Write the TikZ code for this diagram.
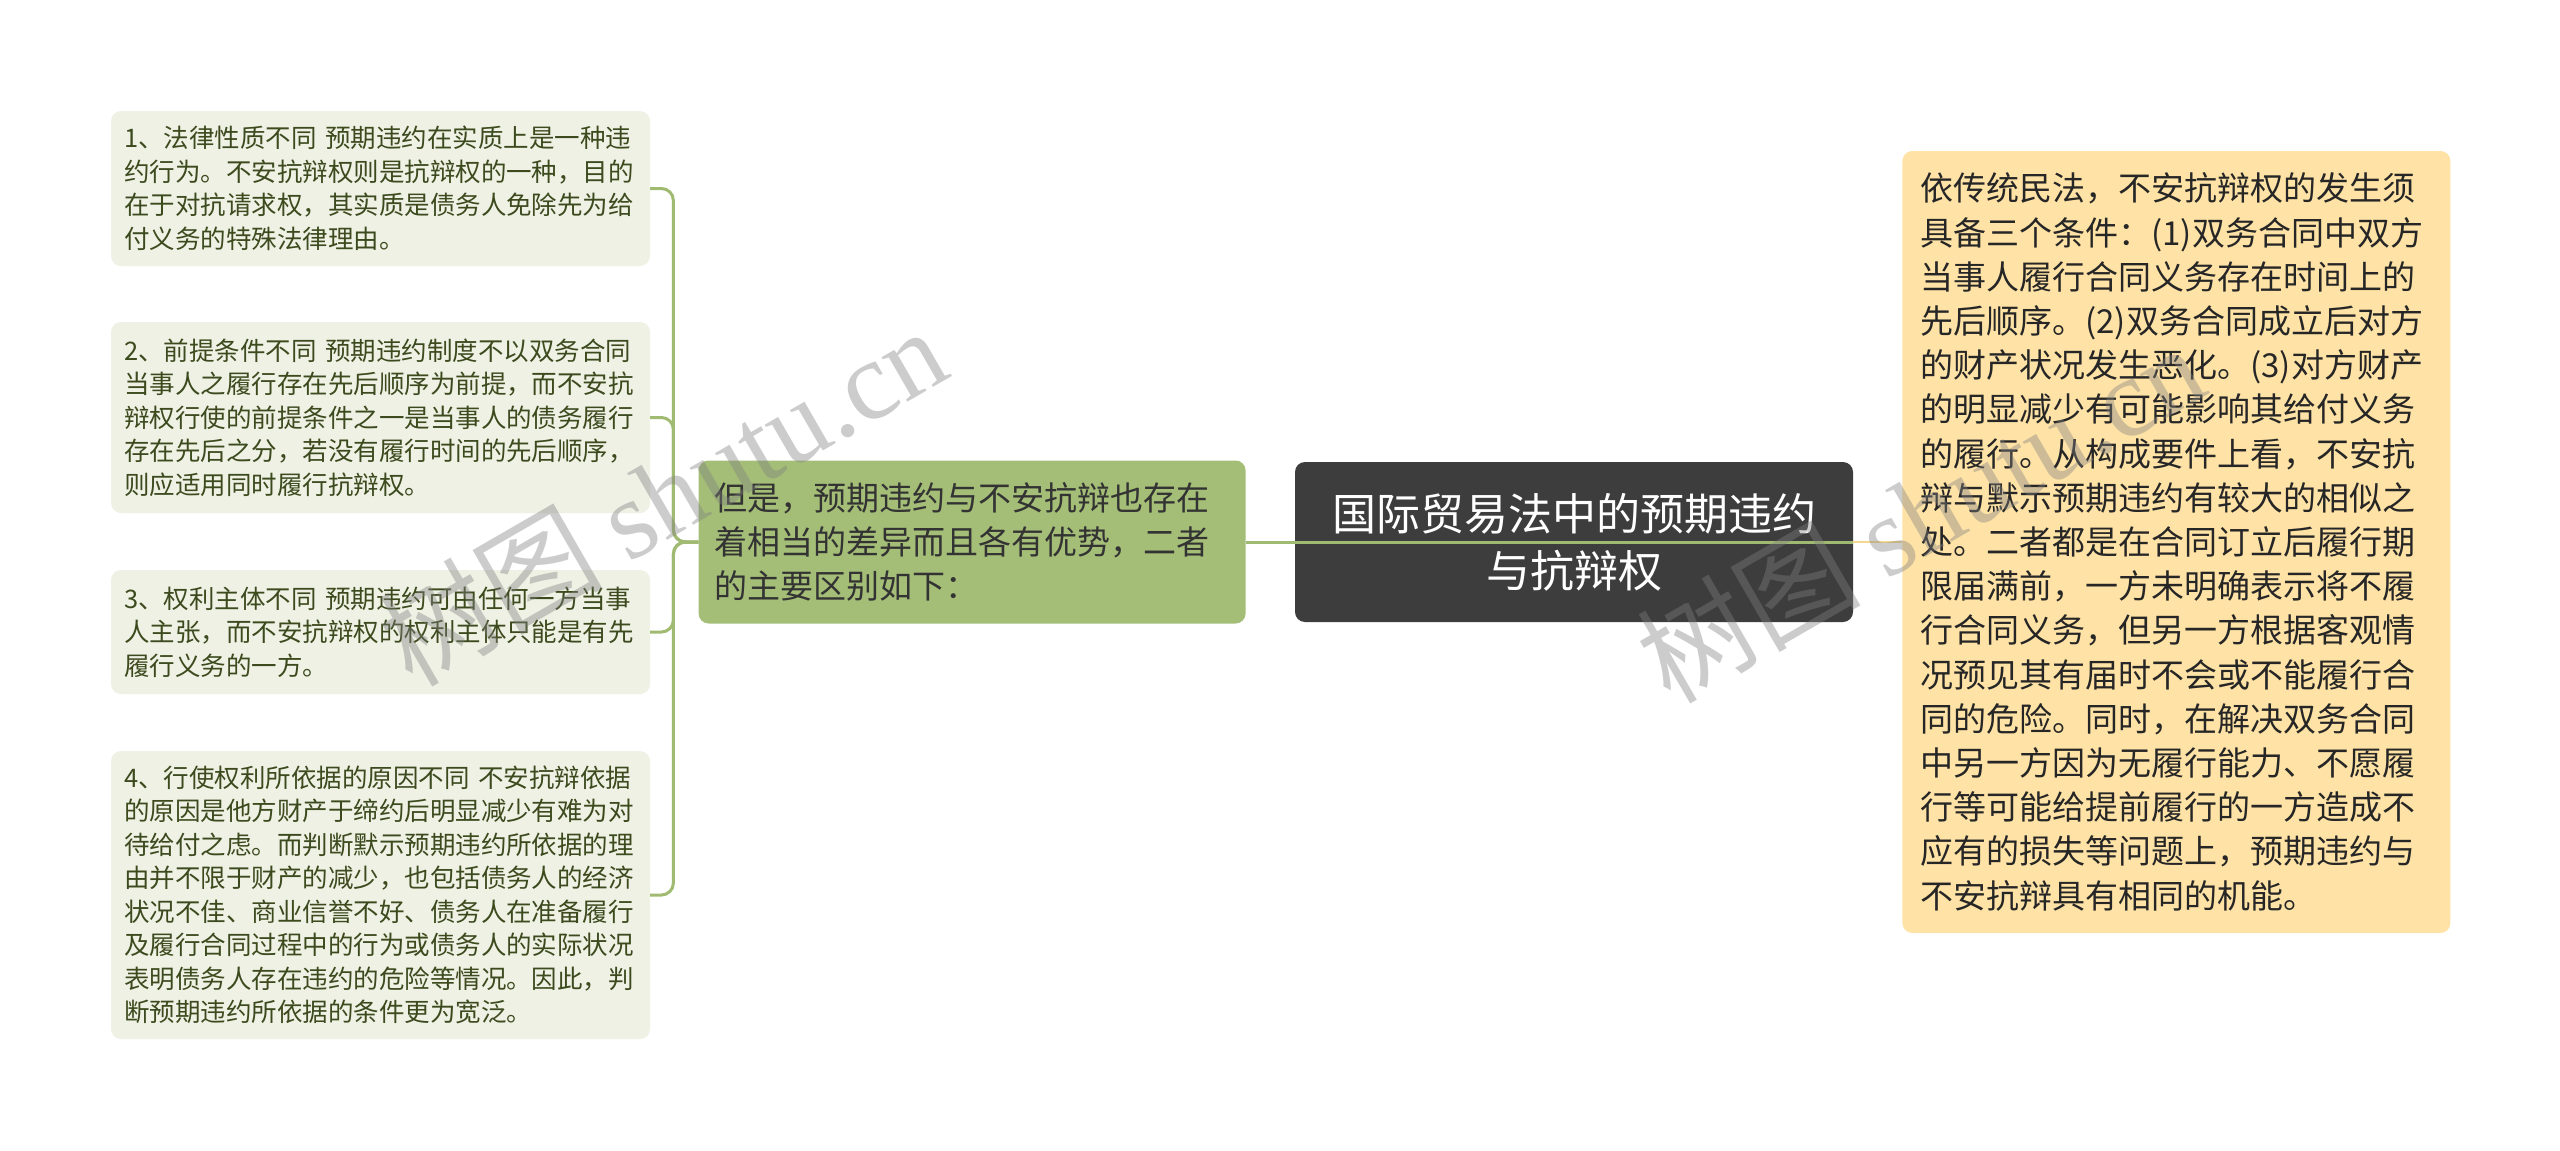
\documentclass[tikz,border=0pt]{standalone}
\usepackage{fontspec}
\setmainfont{Noto Sans CJK SC}
\newfontfamily\wmlatin{Liberation Serif}
\usetikzlibrary{positioning}
\definecolor{leafbg}{HTML}{EEF1E4}
\definecolor{leaftext}{HTML}{3C4A1E}
\definecolor{midbg}{HTML}{A4BE77}
\definecolor{rootbg}{HTML}{3D3D3D}
\definecolor{notebg}{HTML}{FFE3A6}
\definecolor{linkgreen}{HTML}{A1BA72}
\definecolor{linkyellow}{HTML}{F3D990}

\begin{document}
\begin{tikzpicture}[x=1pt,y=-1pt,
  box/.style = {rounded corners=10pt, inner ysep=0pt},
  leaf/.style = {box, fill=leafbg, text=leaftext, align=left, text width=513pt, inner xsep=13pt, font=\fontsize{25.5}{33.5}\selectfont},
  mid/.style = {box, fill=midbg, text=black!80, align=left, text width=515pt, inner xsep=16pt, minimum height=163pt, font=\fontsize{33}{44}\selectfont},
  root/.style = {box, fill=rootbg, text=white, align=center, text width=530pt, inner xsep=14pt, minimum height=160pt, font=\fontsize{44}{57}\selectfont},
  note/.style = {box, fill=notebg, text=black!85, align=left, text width=512pt, inner xsep=18pt, minimum height=782pt, font=\fontsize{33}{44.2}\selectfont},
  link/.style = {draw=linkgreen, line width=3pt, rounded corners=12pt},
  wm/.style = {text=gray, text opacity=0.4, font=\fontsize{112}{112}\selectfont}]
\fill[white] (0,0) rectangle (2560,1151);
\useasboundingbox (0,0) rectangle (2560,1151);

\node[root] (0) at (1574,542) {国际贸易法中的预期违约\\与抗辩权};
\node[mid] (1) [left=49pt of 0] {但是，预期违约与不安抗辩也存在\\着相当的差异而且各有优势，二者\\的主要区别如下：};
\node[note] (6) [right=49pt of 0] {依传统民法，不安抗辩权的发生须\\具备三个条件：(1)双务合同中双方\\当事人履行合同义务存在时间上的\\先后顺序。(2)双务合同成立后对方\\的财产状况发生恶化。(3)对方财产\\的明显减少有可能影响其给付义务\\的履行。从构成要件上看，不安抗\\辩与默示预期违约有较大的相似之\\处。二者都是在合同订立后履行期\\限届满前，一方未明确表示将不履\\行合同义务，但另一方根据客观情\\况预见其有届时不会或不能履行合\\同的危险。同时，在解决双务合同\\中另一方因为无履行能力、不愿履\\行等可能给提前履行的一方造成不\\应有的损失等问题上，预期违约与\\不安抗辩具有相同的机能。};

\node[leaf, minimum height=155pt] (2) at (380.5,188.5) {1、法律性质不同 预期违约在实质上是一种违\\约行为。不安抗辩权则是抗辩权的一种，目的\\在于对抗请求权，其实质是债务人免除先为给\\付义务的特殊法律理由。};
\node[leaf, minimum height=191pt] (3) at (380.5,417.5) {2、前提条件不同 预期违约制度不以双务合同\\当事人之履行存在先后顺序为前提，而不安抗\\辩权行使的前提条件之一是当事人的债务履行\\存在先后之分，若没有履行时间的先后顺序，\\则应适用同时履行抗辩权。};
\node[leaf, minimum height=124pt] (4) at (380.5,632) {3、权利主体不同 预期违约可由任何一方当事\\人主张，而不安抗辩权的权利主体只能是有先\\履行义务的一方。};
\node[leaf, minimum height=288pt] (5) at (380.5,895) {4、行使权利所依据的原因不同 不安抗辩依据\\的原因是他方财产于缔约后明显减少有难为对\\待给付之虑。而判断默示预期违约所依据的理\\由并不限于财产的减少，也包括债务人的经济\\状况不佳、商业信誉不好、债务人在准备履行\\及履行合同过程中的行为或债务人的实际状况\\表明债务人存在违约的危险等情况。因此，判\\断预期违约所依据的条件更为宽泛。};

\draw[link] (1.west) -- ++(-25,0) |- (2.east);
\draw[link] (1.west) -- ++(-25,0) |- (3.east);
\draw[link] (1.west) -- ++(-25,0) |- (4.east);
\draw[link] (1.west) -- ++(-25,0) |- (5.east);
\draw[link] (1.east) -- (0.east);
\draw[draw=linkyellow, line width=2pt] (0.east) -- (6.west);

\node[wm, rotate=30] (w1) at (662,495) {树图 {\wmlatin shutu.cn}};
\node[wm, rotate=30] (w2) at (1920,512) {树图 {\wmlatin shutu.cn}};
\end{tikzpicture}
\end{document}
